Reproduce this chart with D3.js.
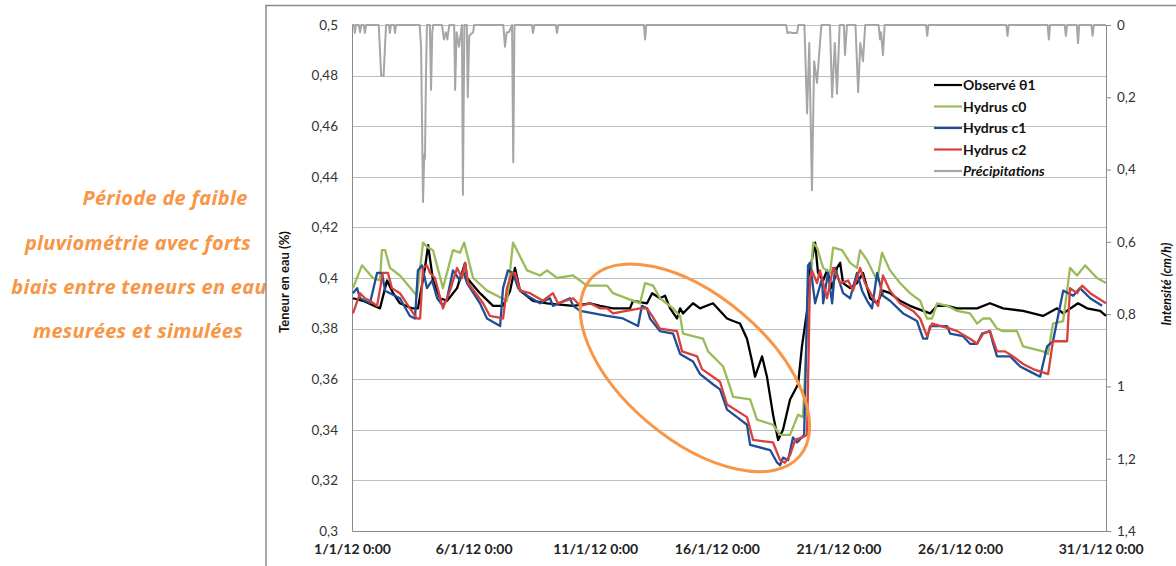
<!DOCTYPE html>
<html><head><meta charset="utf-8">
<script src="https://cdn.jsdelivr.net/npm/d3@7/dist/d3.min.js"></script>
<style>
body{margin:0;background:#fff;}
</style>
</head><body>
<svg id="chart" width="1176" height="566" font-family="Lato, 'Open Sans', sans-serif"></svg>
<script>
// ---- data (x = days since 1/1/12 0:00) ----
const xTickDays = [0,5,10,15,20,25,30];
const xTickLabels = ["1/1/12 0:00","6/1/12 0:00","11/1/12 0:00","16/1/12 0:00","21/1/12 0:00","26/1/12 0:00","31/1/12 0:00"];
const leftTicks = [0.3,0.32,0.34,0.36,0.38,0.4,0.42,0.44,0.46,0.48,0.5];
const leftTickLabels = ["0,3","0,32","0,34","0,36","0,38","0,4","0,42","0,44","0,46","0,48","0,5"];
const rightTicks = [0,0.2,0.4,0.6,0.8,1,1.2,1.4];
const rightTickLabels = ["0","0,2","0,4","0,6","0,8","1","1,2","1,4"];
const seriesNames = ["Observé θ1","Hydrus c0","Hydrus c1","Hydrus c2","Précipitations"];
const annotationLines = ["Période de faible","pluviométrie avec forts","biais entre teneurs en eau","mesurées et simulées"];

const observed = [[0.04,0.392],[0.45,0.391],[1.15,0.388],[1.44,0.399],[1.69,0.394],[1.97,0.390],[2.47,0.388],[2.71,0.388],[3.0,0.404],[3.13,0.413],[3.33,0.399],[3.62,0.392],[3.91,0.391],[4.32,0.396],[4.65,0.406],[4.73,0.400],[5.26,0.394],[5.80,0.389],[6.21,0.389],[6.50,0.395],[6.70,0.404],[6.91,0.395],[7.44,0.391],[8.02,0.390],[9.09,0.389],[9.79,0.390],[10.20,0.389],[10.73,0.388],[11.43,0.388],[11.55,0.391],[12.13,0.390],[12.34,0.394],[12.66,0.392],[12.87,0.393],[13.08,0.388],[13.36,0.384],[13.49,0.388],[13.61,0.386],[14.02,0.390],[14.31,0.388],[14.84,0.390],[15.42,0.384],[15.67,0.383],[15.95,0.382],[16.24,0.376],[16.45,0.367],[16.57,0.361],[16.86,0.369],[17.06,0.361],[17.31,0.346],[17.52,0.336],[17.72,0.340],[18.01,0.352],[18.34,0.358],[18.50,0.373],[18.71,0.387],[18.83,0.403],[19.04,0.414],[19.16,0.402],[19.37,0.399],[19.53,0.403],[19.74,0.396],[19.94,0.404],[20.07,0.406],[20.19,0.398],[20.48,0.396],[20.76,0.398],[21.01,0.402],[21.30,0.392],[21.59,0.390],[21.83,0.395],[22.12,0.394],[22.53,0.391],[22.94,0.389],[23.48,0.387],[23.77,0.386],[24.05,0.389],[24.47,0.389],[24.88,0.388],[25.70,0.388],[26.23,0.390],[26.77,0.388],[27.59,0.387],[28.41,0.385],[28.99,0.388],[29.24,0.386],[29.85,0.390],[30.22,0.388],[30.76,0.387],[31.0,0.385]];

const hydrusC0 = [[0.04,0.396],[0.41,0.405],[0.86,0.400],[1.15,0.399],[1.23,0.411],[1.36,0.411],[1.56,0.404],[1.97,0.401],[2.67,0.393],[2.92,0.414],[3.13,0.412],[3.33,0.411],[3.74,0.396],[4.15,0.411],[4.44,0.410],[4.61,0.414],[4.98,0.400],[5.55,0.395],[6.37,0.391],[6.62,0.414],[7.20,0.403],[7.73,0.401],[8.02,0.403],[8.43,0.400],[9.09,0.401],[9.66,0.397],[10.20,0.397],[10.49,0.397],[10.73,0.394],[11.84,0.390],[12.05,0.398],[12.38,0.397],[12.66,0.392],[13.20,0.388],[13.49,0.385],[13.61,0.378],[14.43,0.376],[14.64,0.371],[15.26,0.365],[15.54,0.357],[15.67,0.353],[16.37,0.352],[16.65,0.344],[17.31,0.342],[17.60,0.338],[18.01,0.338],[18.34,0.346],[18.54,0.345],[18.71,0.379],[18.96,0.414],[19.12,0.412],[19.37,0.404],[19.65,0.402],[19.78,0.412],[20.15,0.411],[20.48,0.406],[20.76,0.404],[20.89,0.411],[21.18,0.407],[21.59,0.399],[21.79,0.410],[22.12,0.403],[22.53,0.398],[22.94,0.394],[23.36,0.391],[23.64,0.384],[23.85,0.384],[24.05,0.390],[24.47,0.389],[24.88,0.387],[25.41,0.386],[25.70,0.382],[25.95,0.384],[26.23,0.384],[26.52,0.380],[26.77,0.379],[27.34,0.379],[27.59,0.373],[28.41,0.371],[28.62,0.370],[28.82,0.382],[29.24,0.383],[29.52,0.404],[29.81,0.401],[30.14,0.405],[30.63,0.400],[31.0,0.398]];

const hydrusC1 = [[0.04,0.394],[0.21,0.396],[0.33,0.392],[0.74,0.390],[1.03,0.402],[1.23,0.402],[1.36,0.395],[1.56,0.394],[1.97,0.392],[2.38,0.385],[2.59,0.384],[2.71,0.403],[2.88,0.405],[3.08,0.396],[3.29,0.399],[3.50,0.392],[3.74,0.389],[3.91,0.392],[4.15,0.403],[4.44,0.399],[4.56,0.403],[4.73,0.398],[5.26,0.390],[5.55,0.384],[6.09,0.381],[6.21,0.396],[6.41,0.403],[6.62,0.402],[6.83,0.396],[7.20,0.393],[7.73,0.390],[8.14,0.392],[8.26,0.389],[8.96,0.392],[9.09,0.389],[9.38,0.387],[10.49,0.385],[11.14,0.384],[11.76,0.381],[11.92,0.389],[12.13,0.388],[12.25,0.384],[12.66,0.379],[13.20,0.378],[13.49,0.370],[14.02,0.367],[14.31,0.362],[14.84,0.358],[15.13,0.356],[15.42,0.348],[15.83,0.345],[16.24,0.342],[16.37,0.334],[17.19,0.332],[17.48,0.327],[17.60,0.326],[17.72,0.329],[17.93,0.328],[18.13,0.337],[18.30,0.335],[18.59,0.338],[18.75,0.405],[18.83,0.406],[19.04,0.390],[19.33,0.400],[19.37,0.390],[19.57,0.402],[19.74,0.390],[19.86,0.404],[20.19,0.394],[20.48,0.392],[20.76,0.402],[20.97,0.395],[21.18,0.391],[21.38,0.388],[21.59,0.402],[21.83,0.393],[22.12,0.391],[22.66,0.386],[23.23,0.383],[23.48,0.376],[23.64,0.376],[23.77,0.381],[24.47,0.381],[24.59,0.378],[25.12,0.377],[25.41,0.374],[25.70,0.374],[25.90,0.378],[26.23,0.379],[26.36,0.374],[26.52,0.369],[27.06,0.369],[27.47,0.365],[27.88,0.363],[28.29,0.361],[28.58,0.373],[28.82,0.375],[29.24,0.395],[29.65,0.393],[29.93,0.396],[30.35,0.392],[30.84,0.389]];

const hydrusC2 = [[0.04,0.386],[0.33,0.394],[0.53,0.392],[0.74,0.391],[1.03,0.389],[1.27,0.402],[1.48,0.402],[1.64,0.396],[1.97,0.394],[2.38,0.388],[2.67,0.384],[2.80,0.384],[2.92,0.404],[3.08,0.405],[3.21,0.402],[3.41,0.400],[3.74,0.388],[4.03,0.395],[4.32,0.404],[4.52,0.400],[4.65,0.406],[4.77,0.398],[5.39,0.390],[5.67,0.385],[6.21,0.384],[6.37,0.396],[6.58,0.402],[6.70,0.402],[6.91,0.395],[7.32,0.394],[7.85,0.391],[8.26,0.394],[8.47,0.390],[9.09,0.392],[9.38,0.389],[9.79,0.390],[10.20,0.388],[10.49,0.388],[10.73,0.386],[11.84,0.388],[12.13,0.388],[12.34,0.385],[12.66,0.380],[13.36,0.379],[13.57,0.371],[14.19,0.369],[14.39,0.364],[15.13,0.359],[15.42,0.350],[16.24,0.345],[16.49,0.336],[17.31,0.335],[17.60,0.328],[17.80,0.327],[18.01,0.330],[18.22,0.336],[18.50,0.337],[18.71,0.338],[18.83,0.400],[18.91,0.403],[19.12,0.398],[19.24,0.403],[19.53,0.392],[19.78,0.404],[20.07,0.398],[20.40,0.399],[20.60,0.395],[20.89,0.404],[21.09,0.398],[21.38,0.393],[21.63,0.389],[21.83,0.401],[22.12,0.395],[22.53,0.390],[23.07,0.387],[23.36,0.384],[23.64,0.377],[23.85,0.382],[24.59,0.380],[24.88,0.379],[25.41,0.376],[25.70,0.374],[25.95,0.378],[26.23,0.379],[26.52,0.371],[26.85,0.371],[27.18,0.369],[27.59,0.366],[28.00,0.364],[28.62,0.362],[28.82,0.375],[29.40,0.375],[29.52,0.396],[29.81,0.394],[30.02,0.397],[30.35,0.394],[31.0,0.390]];

const precipitation = [[0,0],[0.08,0],[0.12,0.022],[0.16,0],[0.28,0],[0.33,0.02],[0.38,0],[0.48,0],[0.53,0.022],[0.58,0],[1.10,0],[1.20,0.14],[1.30,0.14],[1.40,0],[1.52,0],[1.56,0.022],[1.60,0],[1.73,0],[1.77,0.022],[1.81,0],[2.78,0],[2.84,0.06],[2.92,0.49],[2.97,0.36],[3.0,0.37],[3.04,0.15],[3.08,0],[3.20,0],[3.25,0.18],[3.30,0.02],[3.34,0],[3.70,0],[3.78,0.04],[3.86,0.02],[3.92,0.04],[4.0,0],[4.20,0],[4.24,0.18],[4.30,0.02],[4.40,0.06],[4.52,0],[4.56,0.47],[4.62,0],[4.72,0],[4.76,0.2],[4.82,0.03],[4.98,0.02],[5.02,0],[6.22,0],[6.29,0.06],[6.36,0.02],[6.45,0.02],[6.58,0],[6.63,0.38],[6.68,0],[7.40,0],[7.44,0.022],[7.50,0],[8.38,0],[8.43,0.022],[8.48,0],[12.0,0],[12.05,0.04],[12.10,0],[17.85,0],[17.9,0.022],[18.0,0.02],[18.1,0.022],[18.3,0.022],[18.35,0],[18.6,0],[18.71,0.245],[18.8,0.05],[18.91,0.457],[19.0,0.1],[19.12,0.16],[19.24,0.05],[19.3,0],[19.65,0],[19.74,0.2],[19.85,0.05],[19.94,0.19],[20.05,0],[20.22,0],[20.27,0.083],[20.35,0],[20.70,0],[20.81,0.186],[20.9,0.05],[21.01,0.10],[21.1,0],[21.65,0],[21.71,0.04],[21.75,0.02],[21.83,0.083],[21.9,0],[23.6,0],[23.65,0.03],[23.7,0],[26.9,0],[26.95,0.03],[27.0,0],[28.6,0],[28.65,0.04],[28.7,0],[29.3,0],[29.35,0.03],[29.4,0],[29.8,0],[29.85,0.05],[29.9,0],[30.4,0],[30.45,0.03],[30.5,0],[31,0]];

const colors = ["#000000","#9BBB59","#1F4E96","#D8403C","#A6A6A6"];
const allSeries = [observed, hydrusC0, hydrusC1, hydrusC2];

// ---- layout ----
const svg = d3.select("#chart");
const M = {left:352, right:1106, top:25, bottom:531};
const x = d3.scaleLinear().domain([0,31]).range([M.left, M.right]);
const yL = d3.scaleLinear().domain([0.3,0.5]).range([M.bottom, M.top]);
const yR = d3.scaleLinear().domain([0,1.4]).range([M.top, M.bottom]);

// annotation text (left, partly hidden by chart frame)
const orange = "#F79646";
const annX = [165,138,139,138];
const annY = [205,250,294,338];
annotationLines.forEach((t,i)=>{
  svg.append("text").attr("x",annX[i]).attr("y",annY[i]).attr("text-anchor","middle")
    .style("font-family","'Open Sans', sans-serif").style("font-size","20px")
    .style("font-weight","bold").style("font-style","italic").style("letter-spacing","0.3px")
    .attr("fill",orange).text(t);
});

// chart frame
svg.append("rect").attr("x",266).attr("y",5.5).attr("width",1000).attr("height",700)
  .attr("fill","#fff").attr("stroke","#8a8a8a").attr("stroke-width",1.5);

// gridlines
svg.append("g").selectAll("line").data(leftTicks.filter(v=>v>0.3)).join("line")
  .attr("x1",M.left).attr("x2",M.right)
  .attr("y1",d=>Math.round(yL(d))+0.5).attr("y2",d=>Math.round(yL(d))+0.5)
  .attr("stroke","#BDBDBD").attr("stroke-width",1);

// axes
const axL = d3.axisLeft(yL).tickValues(leftTicks).tickSize(0).tickPadding(14)
  .tickFormat((d,i)=>leftTickLabels[i]);
const gL = svg.append("g").attr("transform",`translate(${M.left},0)`).call(axL);
gL.select(".domain").attr("stroke","#8a8a8a");
gL.selectAll("text").style("font-size","13.5px").style("font-family","Lato, sans-serif").attr("fill","#333");

const axR = d3.axisRight(yR).tickValues(rightTicks).tickSize(5).tickPadding(6)
  .tickFormat((d,i)=>rightTickLabels[i]);
const gR = svg.append("g").attr("transform",`translate(${M.right},0)`).call(axR);
gR.select(".domain").attr("stroke","#8a8a8a");
gR.selectAll(".tick line").attr("stroke","#8a8a8a");
gR.selectAll("text").style("font-size","13.5px").style("font-family","Lato, sans-serif").attr("fill","#333");

const axB = d3.axisBottom(x).tickValues(xTickDays).tickSize(0).tickPadding(13)
  .tickFormat((d,i)=>xTickLabels[i]);
const gB = svg.append("g").attr("transform",`translate(0,${M.bottom})`).call(axB);
gB.select(".domain").attr("stroke","#8a8a8a");
gB.selectAll("text").style("font-size","14px").style("font-weight","bold").style("font-family","Lato, sans-serif").attr("fill","#222");
// the last category label sits further right in the original (Excel label placement)
gB.selectAll(".tick text").filter((d,i)=>i===xTickDays.length-1).attr("dx",19);

// axis titles
svg.append("text").attr("transform",`translate(289,282) rotate(-90)`).attr("text-anchor","middle")
  .style("font-size","13px").style("font-weight","bold").attr("fill","#111").text("Teneur en eau (%)");
svg.append("text").attr("transform",`translate(1171,284) rotate(-90)`).attr("text-anchor","middle")
  .style("font-size","12.5px").style("font-weight","bold").style("font-style","italic").attr("fill","#111").text("Intensité (cm/h)");

// precipitation (right axis)
const lineR = d3.line().x(d=>x(d[0])).y(d=>yR(d[1]));
svg.append("path").datum(precipitation).attr("d",lineR).attr("fill","none")
  .attr("stroke",colors[4]).attr("stroke-width",2).attr("stroke-linejoin","round");

// water content lines
const lineL = d3.line().x(d=>x(d[0])).y(d=>yL(d[1]));
allSeries.forEach((s,i)=>{
  svg.append("path").datum(s).attr("d",lineL).attr("fill","none")
    .attr("stroke",colors[i]).attr("stroke-width",2.3).attr("stroke-linejoin","round");
});

// ellipse annotation
svg.append("ellipse").attr("cx",x(14.1)).attr("cy",yL(0.3645)).attr("rx",137).attr("ry",72)
  .attr("transform",`rotate(40,${x(14.1)},${yL(0.3645)})`)
  .attr("fill","none").attr("stroke",orange).attr("stroke-width",3);

// legend
const lg = svg.append("g");
seriesNames.forEach((n,i)=>{
  const yy = 85 + i*21.5;
  lg.append("line").attr("x1",934).attr("x2",962).attr("y1",yy).attr("y2",yy)
    .attr("stroke",colors[i]).attr("stroke-width",2.2);
  lg.append("text").attr("x",963).attr("y",yy+5).style("font-size","14px").style("font-weight","bold")
    .style("font-style",i===4?"italic":"normal").attr("fill","#111").text(n);
});
</script>
</body></html>
